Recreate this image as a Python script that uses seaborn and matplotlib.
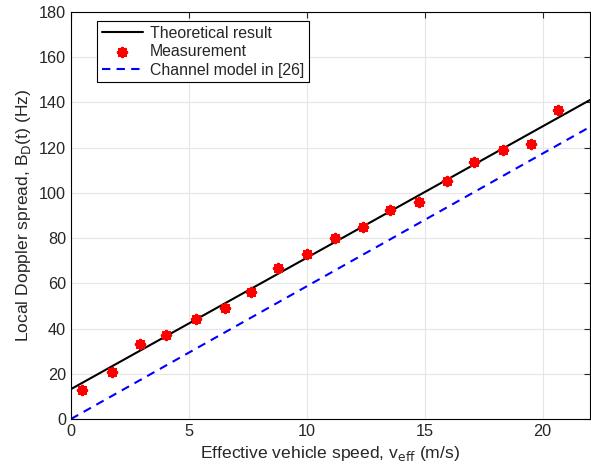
import numpy as np
import pandas as pd
import matplotlib
matplotlib.use("Agg")
import matplotlib.pyplot as plt
import seaborn as sns

speed = [0.49, 1.76, 2.91, 4.05, 5.32, 6.55, 7.65, 8.79, 10.01,
         11.21, 12.39, 13.51, 14.76, 15.95, 17.08, 18.31, 19.49, 20.63]
spread = [12.7, 20.8, 33.1, 37.1, 44.4, 48.9, 56.0, 66.9, 73.1,
          80.1, 85.0, 92.6, 96.1, 105.4, 113.8, 119.1, 121.5, 136.6]

# straight lines, end points
line_x = [0, 22]
theory_y = [13.2, 141.0]
model_y = [0.0, 129.1]

sns.set_style("whitegrid", {"grid.color": "#e6e6e6", "axes.edgecolor": "black",
                            "xtick.direction": "in", "ytick.direction": "in"})
plt.rcParams['font.family'] = ['Liberation Sans', 'DejaVu Sans']

fig = plt.figure(figsize=(5.91, 4.74), dpi=100)
ax = fig.add_axes([0.120, 0.116, 0.878, 0.859])

sns.lineplot(x=line_x, y=theory_y, color="black", linewidth=1.5, ax=ax,
             label="Theoretical result")
sns.scatterplot(x=speed, y=spread, color="red", marker=(8, 2, 0), s=32,
                linewidth=2.6, edgecolor="red", ax=ax, label="Measurement", zorder=3)
sns.lineplot(x=line_x, y=model_y, color="blue", linewidth=1.5, ax=ax,
             label="Channel model in [26]")
ax.lines[-1].set_dashes([4, 3])

ax.set_xlim(0, 22)
ax.set_ylim(0, 180)
ax.set_xticks([0, 5, 10, 15, 20])
ax.set_yticks(np.arange(0, 181, 20))
ax.tick_params(labelsize=11.7, colors="#262626", length=4, width=0.8,
               top=True, right=True, direction="in")
for s in ax.spines.values():
    s.set_linewidth(0.8)
    s.set_color("black")

ax.set_xlabel(r"Effective vehicle speed, v$_{\rm eff}$ (m/s)", fontsize=12.6, color="#262626")
ax.set_ylabel(r"Local Doppler spread, B$_{\rm D}$(t) (Hz)", fontsize=12.6, color="#262626")

leg = ax.legend(loc="upper left", bbox_to_anchor=(0.035, 0.997), fontsize=11.4,
                frameon=True, fancybox=False, edgecolor="black", framealpha=1,
                handlelength=2.6, borderpad=0.3, labelspacing=0.22, handletextpad=0.45)
leg.get_frame().set_linewidth(0.8)

fig.savefig("out.png", dpi=100)
